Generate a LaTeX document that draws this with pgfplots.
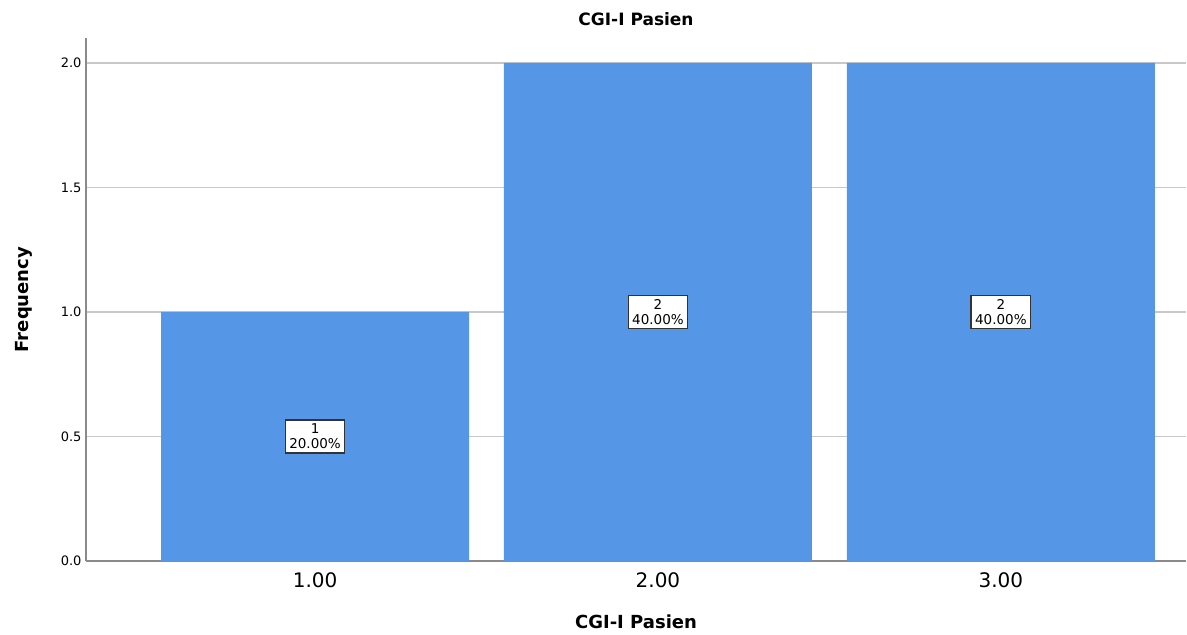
\documentclass[border=0pt]{standalone}
\usepackage{pgfplots}
\pgfplotsset{compat=1.18}
\usepackage{fontspec}
\setmainfont{DejaVu Sans}
\definecolor{barblue}{HTML}{5596E6}
\definecolor{gridgray}{HTML}{C8C8C8}
\definecolor{axgray}{HTML}{8A8A8A}
\begin{document}
\begin{tikzpicture}
\path[use as bounding box] (0,0) rectangle (1187pt,635pt);
\begin{axis}[
  at={(86pt,74pt)}, anchor=south west,
  scale only axis, width=1100pt, height=523pt,
  xmin=0.332, xmax=3.54, ymin=0, ymax=2.1,
  axis x line*=bottom, axis y line*=left,
  axis line style={axgray, line width=1.2pt, -},
  xtick={1,2,3}, xticklabels={1.00,2.00,3.00},
  ytick={0,0.5,1,1.5,2},
  yticklabels={0.0,0.5,1.0,1.5,2.0},
  major tick length=0pt,
  ymajorgrids, grid style={gridgray, line width=1.2pt},
  x tick label style={font=\fontsize{20}{24}\selectfont, yshift=-8pt},
  y tick label style={font=\fontsize{13}{15}\selectfont, xshift=-1pt},
  /pgf/number format/assume math mode=true,
  title={\bfseries CGI-I Pasien},
  title style={font=\fontsize{17}{19}\selectfont, at={(0.5,1)}, yshift=3pt, anchor=south},
  xlabel={\bfseries CGI-I Pasien},
  xlabel style={font=\fontsize{18}{21}\selectfont, yshift=-20pt},
  ylabel={\bfseries Frequency},
  ylabel style={font=\fontsize{18}{21}\selectfont, yshift=22pt},
  clip=false,
]
\addplot[ybar, bar width=0.898, fill=barblue, draw=none, bar shift=0pt]
  coordinates {(1,1) (2,2) (3,2)};
\addplot[only marks, mark=none, point meta=explicit symbolic,
  nodes near coords,
  nodes near coords align={center},
  every node near coord/.append style={anchor=center, fill=white, draw=black!80, line width=1.4pt,
    align=center, font=\fontsize{13.5}{15}\selectfont, inner xsep=4pt, inner ysep=4pt}]
  coordinates {(1,0.5) [{1\\20.00\%}] (2,1) [{2\\40.00\%}] (3,1) [{2\\40.00\%}]};
\end{axis}
\end{tikzpicture}
\end{document}
